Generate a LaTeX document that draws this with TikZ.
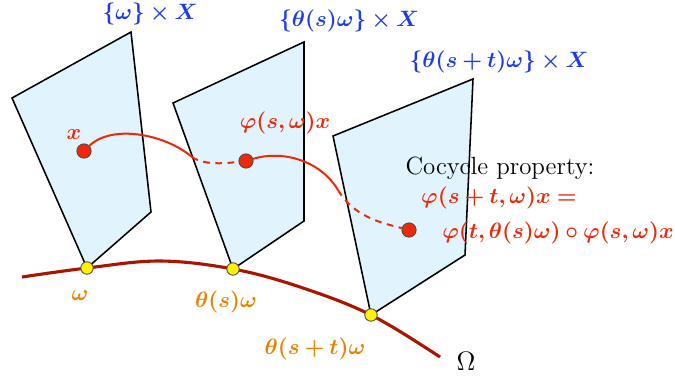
\documentclass[tikz,border=0pt]{standalone}
\usepackage{bm}
\definecolor{planefill}{RGB}{225,243,252}
\definecolor{omegared}{RGB}{170,20,0}
\definecolor{trajred}{RGB}{240,40,10}
\definecolor{lblblue}{RGB}{30,60,235}
\definecolor{lblorange}{RGB}{230,130,0}
\tikzset{
  plane/.style={fill=planefill,draw=black,line width=0.7pt,line join=miter},
  basecurve/.style={draw=omegared,line width=1.4pt},
  traj/.style={draw=trajred,line width=0.9pt},
  trajhid/.style={traj,dashed,dash pattern=on 3pt off 2.5pt},
  ydot/.style={circle,fill=yellow,draw=black!70,line width=0.4pt,minimum size=5.6pt,inner sep=0pt},
  rdot/.style={circle,fill=trajred,draw=black!70,line width=0.4pt,minimum size=6.4pt,inner sep=0pt},
  lbl/.style={inner sep=1pt,font=\fontsize{10.3}{12.5}\selectfont},
  bluelbl/.style={lbl,text=lblblue},
  orlbl/.style={lbl,text=lblorange},
  redlbl/.style={lbl,text=trajred}
}
\begin{document}
\begin{tikzpicture}[x=0.45pt,y=-0.45pt]
\useasboundingbox (0,0) rectangle (675,375);
% planes
\draw[plane] (12,98) -- (131,32) -- (151,212) -- (87,268) -- cycle;
\draw[plane] (173,103) -- (304,42) -- (304,221) -- (233,269) -- cycle;
\draw[plane] (333,136) -- (473,79) -- (465,255) -- (371,315) -- cycle;
% base curve Omega
\draw[basecurve] plot[smooth,tension=0.6] coordinates {(22,277) (87,268) (160,261) (233,269) (300,287) (371,315) (440,357)};
% base points
\node[ydot] (w0) at (87,268) {};
\node[ydot] (w1) at (233,269) {};
\node[ydot] (w2) at (371,315) {};
% trajectory points
\node[rdot] (p0) at (84,151) {};
\node[rdot] (p1) at (246,161) {};
\node[rdot] (p2) at (409,230) {};
\coordinate (e1) at (192,157);
\coordinate (e2) at (338,190);
\draw[traj] (p0) .. controls (112,124) and (165,134) .. (e1);
\draw[trajhid] (e1) .. controls (205,166) and (228,163) .. (p1);
\draw[traj] (p1) .. controls (282,150) and (320,160) .. (e2);
\draw[trajhid] (e2) .. controls (354,217) and (382,223) .. (p2);
% labels
\node[bluelbl] (l0) at (150,14) {$\bm{\{\omega\}\times X}$};
\node[bluelbl] (l1) at (349,21) {$\bm{\{\theta(s)\omega\}\times X}$};
\node[bluelbl] (l2) at (499,62) {$\bm{\{\theta(s+t)\omega\}\times X}$};
\node[redlbl] (lx) at (74,135) {$\bm{x}$};
\node[redlbl] (lp1) at (285,123) {$\bm{\varphi(s,\omega)x}$};
\node[orlbl] (lw0) at (80,296) {$\bm{\omega}$};
\node[orlbl] (lw1) at (226,302) {$\bm{\theta(s)\omega}$};
\node[orlbl] (lw2) at (315,349) {$\bm{\theta(s+t)\omega}$};
\node[lbl,font=\fontsize{11.5}{13}\selectfont] (lO) at (466,361) {$\Omega$};
\node[lbl,font=\fontsize{11.2}{13}\selectfont] (cp) at (500,168) {Cocycle property:};
\node[redlbl] (c1) at (499,198) {$\bm{\varphi(s+t,\omega)x=}$};
\node[redlbl] (c2) at (558,233) {$\bm{\varphi(t,\theta(s)\omega)\circ\varphi(s,\omega)x}$};
\end{tikzpicture}
\end{document}
